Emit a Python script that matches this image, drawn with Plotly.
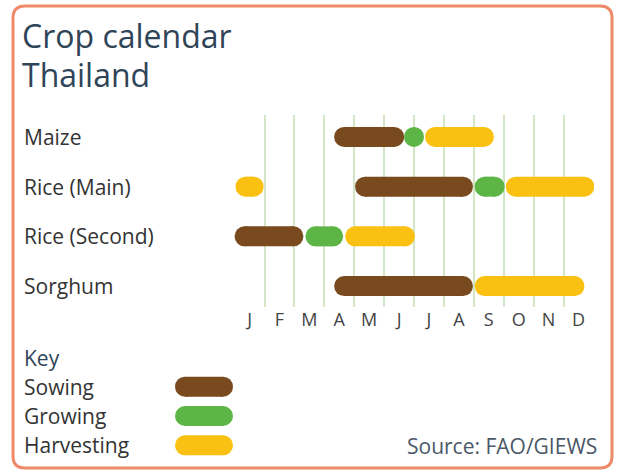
import plotly.graph_objects as go

# ---------------- data ----------------
crops = ["Maize", "Rice (Main)", "Rice (Second)", "Sorghum"]
months = ["J", "F", "M", "A", "M", "J", "J", "A", "S", "O", "N", "D"]
phases = ["Sowing", "Growing", "Harvesting"]

# periods in month units (0 = start of January, 12 = end of December)
sowing_crop = ["Maize", "Rice (Main)", "Rice (Second)", "Sorghum"]
sowing_start = [3.33, 4.03, 0.0, 3.33]
sowing_end = [5.67, 7.97, 2.3, 7.97]

growing_crop = ["Maize", "Rice (Main)", "Rice (Second)"]
growing_start = [5.68, 8.03, 2.37]
growing_end = [6.32, 9.03, 3.63]

harvest_crop = ["Maize", "Rice (Main)", "Rice (Main)", "Rice (Second)", "Sorghum"]
harvest_start = [6.37, 0.03, 9.07, 3.7, 8.03]
harvest_end = [8.67, 0.97, 12.03, 6.03, 11.7]

title_lines = ["Crop calendar", "Thailand"]
source_text = "Source: FAO/GIEWS"

# ---------------- style ----------------
W, H = 620, 473
COLORS = {"Sowing": "#7A4A1F", "Growing": "#5DB546", "Harvesting": "#FBC112"}
GRID = "#D2E5C4"
BORDER = "#EE8A6A"
TITLE_C = "#2F4458"
TEXT_C = "#333333"
FONT = "Open Sans"
THICK = 20  # bar thickness px
PX_PER_MONTH = 30.0
R = (THICK / 2) / PX_PER_MONTH

def px(x):
    return x / W

def py(y):
    return 1 - y / H

fig = go.Figure()

def add_bar(xs, xe, yv, color, xa="x", ya="y"):
    if (xe - xs) <= 2 * R:
        c = (xs + xe) / 2
        fig.add_trace(go.Scatter(x=[c], y=[yv], mode="markers", xaxis=xa, yaxis=ya,
                                 marker=dict(size=THICK, color=color, line=dict(width=0)),
                                 hoverinfo="skip", showlegend=False))
    else:
        fig.add_trace(go.Scatter(x=[xs + R, xe - R], y=[yv, yv], mode="lines+markers",
                                 xaxis=xa, yaxis=ya,
                                 line=dict(width=THICK, color=color),
                                 marker=dict(size=THICK, color=color, line=dict(width=0)),
                                 hoverinfo="skip", showlegend=False))

for cr, s, e in zip(sowing_crop, sowing_start, sowing_end):
    add_bar(s, e, crops.index(cr), COLORS["Sowing"])
for cr, s, e in zip(growing_crop, growing_start, growing_end):
    add_bar(s, e, crops.index(cr), COLORS["Growing"])
for cr, s, e in zip(harvest_crop, harvest_start, harvest_end):
    add_bar(s, e, crops.index(cr), COLORS["Harvesting"])

# key swatches on a small auxiliary axis (range in months, same scale)
for i, ph in enumerate(phases):
    add_bar(0, 58 / PX_PER_MONTH, i, COLORS[ph], xa="x2", ya="y2")

# plot area px: x 234..594, y 115..307
fig.update_layout(
    width=W, height=H,
    margin=dict(l=0, r=0, t=0, b=0, pad=0),
    paper_bgcolor="white", plot_bgcolor="white",
    showlegend=False,
    xaxis=dict(domain=[px(234), px(594)], range=[-0.02, 12.02],
               tickvals=[i + 0.5 for i in range(12)], ticktext=months,
               showgrid=False, zeroline=False, showline=False, ticks="",
               tickfont=dict(family=FONT, size=18, color="#444444"),
               ticklabelstandoff=0,
               minor=dict(tick0=0, dtick=1, showgrid=True, gridcolor=GRID, gridwidth=2, ticks=""),
               fixedrange=True),
    yaxis=dict(domain=[py(307), py(115)], range=[3.42, -0.44],
               showgrid=False, zeroline=False, showline=False, showticklabels=False,
               fixedrange=True),
    xaxis2=dict(domain=[px(170), px(240)], range=[-5 / PX_PER_MONTH, 65 / PX_PER_MONTH],
                visible=False, anchor="y2", fixedrange=True),
    yaxis2=dict(domain=[py(460), py(372)], range=[2.5, -0.5],
                visible=False, anchor="x2", fixedrange=True),
)

ann = []
# title
for txt, yc in zip(title_lines, [36, 74]):
    ann.append(dict(text=txt, x=px(20), y=py(yc), xref="paper", yref="paper",
                    xanchor="left", yanchor="middle", showarrow=False,
                    font=dict(family=FONT, size=32, color=TITLE_C)))
# crop labels
for i, c in enumerate(crops):
    ann.append(dict(text=c, x=px(22), y=i, xref="paper", yref="y",
                    xanchor="left", yanchor="middle", showarrow=False,
                    font=dict(family=FONT, size=21, color=TEXT_C)))
# key
ann.append(dict(text="Key", x=px(22), y=py(358), xref="paper", yref="paper",
                xanchor="left", yanchor="middle", showarrow=False,
                font=dict(family=FONT, size=21, color=TITLE_C)))
for i, ph in enumerate(phases):
    ann.append(dict(text=ph, x=px(22), y=i, xref="paper", yref="y2",
                    xanchor="left", yanchor="middle", showarrow=False,
                    font=dict(family=FONT, size=21, color=TEXT_C)))
ann.append(dict(text=source_text, x=px(599), y=py(446), xref="paper", yref="paper",
                xanchor="right", yanchor="middle", showarrow=False,
                font=dict(family=FONT, size=21, color="#4A5868")))
fig.update_layout(annotations=ann)

# rounded border
x0, y0, x1, y1, r = px(13), py(6), px(612), py(468), 12
rx, ry = r / W, r / H
path = (f"M {x0+rx},{y0} L {x1-rx},{y0} Q {x1},{y0} {x1},{y0-ry} "
        f"L {x1},{y1+ry} Q {x1},{y1} {x1-rx},{y1} L {x0+rx},{y1} "
        f"Q {x0},{y1} {x0},{y1+ry} L {x0},{y0-ry} Q {x0},{y0} {x0+rx},{y0} Z")
fig.add_shape(type="path", path=path, xref="paper", yref="paper",
              line=dict(color=BORDER, width=3), fillcolor="rgba(0,0,0,0)", layer="above")

fig.write_html("out.html", config={"displayModeBar": False},
               post_script="document.body.style.margin='0';document.body.style.overflow='hidden';")
